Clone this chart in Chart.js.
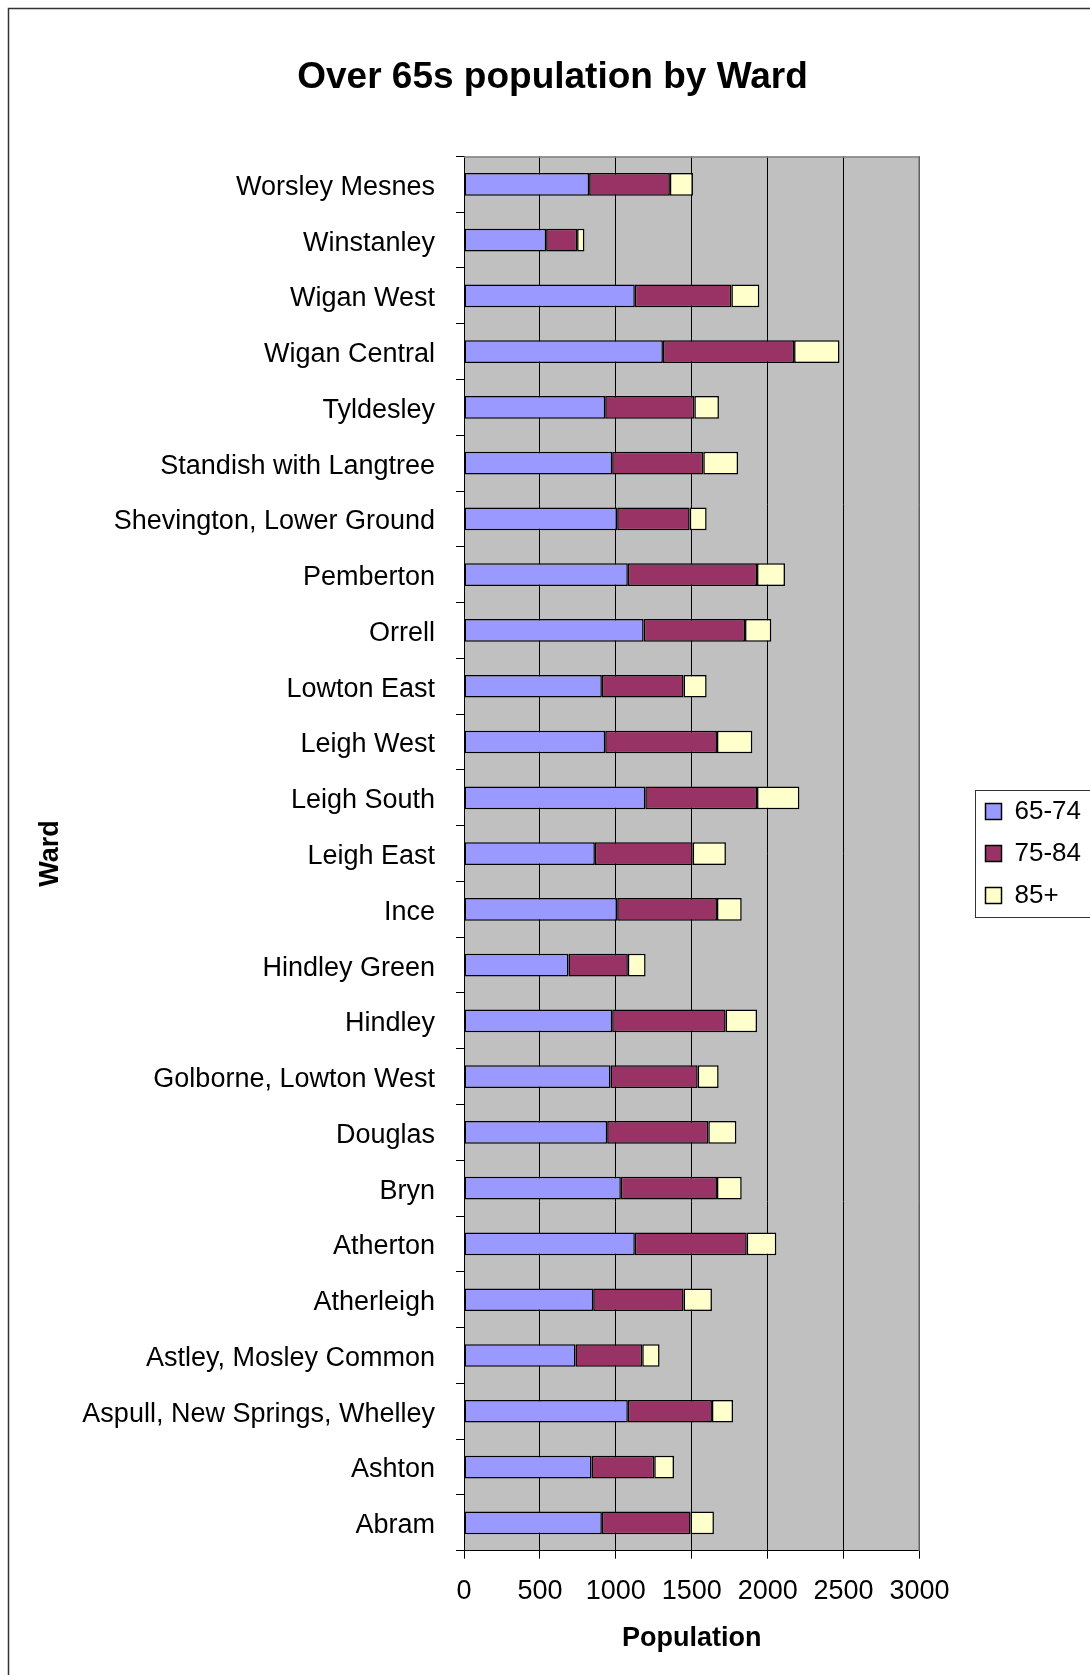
<!DOCTYPE html>
<html>
<head>
<meta charset="utf-8">
<title>Over 65s population by Ward</title>
<script src="https://cdn.jsdelivr.net/npm/chart.js@4/dist/chart.umd.min.js"></script>
<style>
  html, body { margin: 0; padding: 0; background: #ffffff; }
  canvas { display: block; }
</style>
</head>
<body>
<canvas id="chart" width="1090" height="1675"></canvas>
<script>
// Wards, listed top to bottom as they appear on the chart
const wards = [
  "Worsley Mesnes", "Winstanley", "Wigan West", "Wigan Central", "Tyldesley",
  "Standish with Langtree", "Shevington, Lower Ground", "Pemberton", "Orrell",
  "Lowton East", "Leigh West", "Leigh South", "Leigh East", "Ince",
  "Hindley Green", "Hindley", "Golborne, Lowton West", "Douglas", "Bryn",
  "Atherton", "Atherleigh", "Astley, Mosley Common",
  "Aspull, New Springs, Whelley", "Ashton", "Abram"
];

// Residents by age band in each ward
const age65to74 = [824, 541, 1125, 1310, 930, 976, 1009, 1079, 1183, 908, 930, 1194, 862, 1009, 688, 976, 965, 943, 1033, 1125, 851, 734, 1079, 840, 908];
const age75to84 = [532, 204, 636, 864, 587, 600, 477, 851, 668, 538, 736, 736, 644, 657, 391, 747, 574, 666, 633, 737, 595, 440, 554, 413, 584];
const age85plus = [152, 48, 184, 299, 162, 229, 112, 184, 173, 152, 233, 279, 219, 163, 117, 207, 138, 185, 163, 195, 187, 114, 139, 130, 154];

// Population axis
const popMin = 0;
const popMax = 3000;
const popStep = 500;

const seriesNames = ["65-74", "75-84", "85+"];
const seriesColours = ["#9999FF", "#993366", "#FFFFCC"];

const FONT = "'Liberation Sans', Arial, Helvetica, sans-serif";

// White page, outer frame, grey plotting area
const backdrop = {
  id: "backdrop",
  beforeDraw(chart) {
    const {ctx, chartArea: a} = chart;
    ctx.save();
    ctx.fillStyle = "#ffffff";
    ctx.fillRect(0, 0, chart.width, chart.height);
    ctx.strokeStyle = "#333333";
    ctx.lineWidth = 1.5;
    ctx.strokeRect(8.5, 8.5, chart.width + 100, chart.height + 100);
    ctx.fillStyle = "#C0C0C0";
    ctx.fillRect(a.left, a.top, a.right - a.left, a.bottom - a.top);
    ctx.restore();
  },
  beforeDatasetsDraw(chart) {
    const {ctx, chartArea: a} = chart;
    ctx.save();
    ctx.strokeStyle = "#808080";
    ctx.lineWidth = 1.5;
    ctx.beginPath();
    ctx.moveTo(a.left, a.top + 0.5);
    ctx.lineTo(a.right - 0.5, a.top + 0.5);
    ctx.lineTo(a.right - 0.5, a.bottom);
    ctx.stroke();
    ctx.restore();
  }
};

// Thin frame around the legend entries
const legendFrame = {
  id: "legendFrame",
  afterDraw(chart) {
    const lg = chart.legend;
    if (!lg || !lg.legendHitBoxes || !lg.legendHitBoxes.length) return;
    const boxes = lg.legendHitBoxes;
    const first = boxes[0];
    const last = boxes[boxes.length - 1];
    const x0 = Math.round(first.left - 11) + 0.5;
    const y0 = Math.round(first.top - 9) + 0.5;
    const x1 = Math.round(first.left + 104) + 0.5;
    const y1 = Math.round(last.top + last.height + 8) + 0.5;
    const {ctx} = chart;
    ctx.save();
    ctx.strokeStyle = "#333333";
    ctx.lineWidth = 1;
    ctx.strokeRect(x0, y0, x1 - x0, y1 - y0);
    ctx.restore();
  }
};

const datasets = [age65to74, age75to84, age85plus].map((values, i) => ({
  label: seriesNames[i],
  data: values,
  backgroundColor: seriesColours[i],
  borderColor: "#000000",
  borderWidth: 1.5,
  borderSkipped: false,
  categoryPercentage: 1.0,
  barPercentage: 0.407
}));

new Chart(document.getElementById("chart"), {
  type: "bar",
  data: { labels: wards, datasets },
  plugins: [backdrop, legendFrame],
  options: {
    indexAxis: "y",
    responsive: false,
    devicePixelRatio: 1,
    animation: false,
    layout: { padding: { left: 14, right: -1, top: 0, bottom: 0 } },
    plugins: {
      title: {
        display: true,
        text: "Over 65s population by Ward",
        color: "#000000",
        font: { family: FONT, size: 37, weight: "bold" },
        padding: { top: 56, bottom: 56 }
      },
      legend: {
        display: true,
        position: "right",
        fullSize: false,
        labels: {
          color: "#000000",
          font: { family: FONT, size: 26 },
          boxWidth: 16,
          boxHeight: 16,
          padding: 16
        }
      },
      tooltip: { enabled: false }
    },
    scales: {
      x: {
        type: "linear",
        stacked: true,
        min: popMin,
        max: popMax,
        ticks: {
          stepSize: popStep,
          color: "#000000",
          font: { family: FONT, size: 27 },
          padding: 17,
          maxRotation: 0,
          callback: (value) => String(value)
        },
        grid: {
          color: "#000000",
          lineWidth: 1,
          drawTicks: true,
          tickLength: 8,
          tickColor: "#000000"
        },
        border: { display: true, color: "#000000", width: 1 },
        title: {
          display: true,
          text: "Population",
          color: "#000000",
          font: { family: FONT, size: 27, weight: "bold" },
          padding: { top: 0, bottom: 20 }
        },
        afterFit(scale) { scale.height = 124.3; }
      },
      y: {
        type: "category",
        stacked: true,
        offset: true,
        ticks: {
          color: "#000000",
          font: { family: FONT, size: 27 },
          padding: 21,
          labelOffset: 3,
          autoSkip: false
        },
        grid: {
          offset: true,
          drawOnChartArea: false,
          drawTicks: true,
          tickLength: 8,
          color: "#000000"
        },
        border: { display: true, color: "#000000", width: 1 },
        title: {
          display: true,
          text: "Ward",
          color: "#000000",
          font: { family: FONT, size: 27, weight: "bold" },
          padding: { top: 20, bottom: 0 }
        },
        afterFit(scale) { scale.width = 450; }
      },
      gap: {
        type: "category",
        position: "right",
        display: true,
        ticks: { display: false },
        grid: { display: false },
        border: { display: false },
        afterFit(scale) { scale.width = 50; }
      }
    }
  }
});
</script>
</body>
</html>
